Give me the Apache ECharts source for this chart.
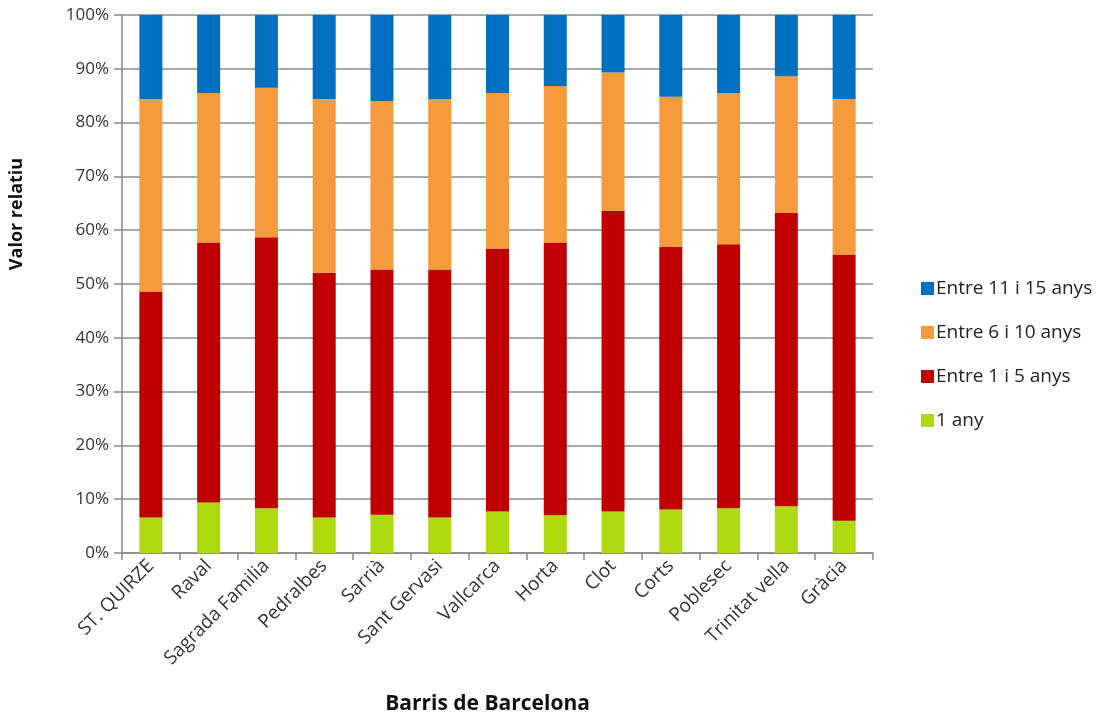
<!DOCTYPE html>
<html>
<head>
<meta charset="utf-8">
<script src="https://cdn.jsdelivr.net/npm/echarts@6/dist/echarts.min.js"></script>
<style>
  html, body { margin: 0; padding: 0; background: #fff; }
  #chart { width: 1116px; height: 720px; }
</style>
</head>
<body>
<div id="chart"></div>
<script>
// barris
const categories = ['ST. QUIRZE', 'Raval', 'Sagrada Familia', 'Pedralbes', 'Sarrià', 'Sant Gervasi',
  'Vallcarca', 'Horta', 'Clot', 'Corts', 'Poblesec', 'Trinitat vella', 'Gràcia']

// percentatges per franja (no acumulats)
const any1 = [6.6, 9.4, 8.3, 6.6, 7.1, 6.6, 7.7, 7.0, 7.7, 8.1, 8.3, 8.7, 6.0]
const anys1a5 = [42.0, 48.3, 50.4, 45.5, 45.6, 46.1, 48.9, 50.7, 55.9, 48.8, 49.1, 54.5, 49.5]
const anys6a10 = [35.8, 27.8, 27.8, 32.3, 31.3, 31.7, 28.9, 29.1, 25.7, 27.9, 28.1, 25.4, 28.9]
const anys11a15 = [15.6, 14.5, 13.5, 15.6, 16.0, 15.6, 14.5, 13.2, 10.7, 15.2, 14.5, 11.4, 15.6]

const font = '"Open Sans", Lato, sans-serif'

const makeBar = (name, data, color) => ({
  name: name,
  type: 'bar',
  stack: 'total',
  barWidth: 23,
  data: data,
  itemStyle: { color: color }
})

let chart = echarts.init(document.getElementById('chart'))
chart.setOption({
  animation: false,
  textStyle: { fontFamily: font },
  grid: { left: 120, right: 243, top: 15, bottom: 164 },
  legend: {
    orient: 'vertical',
    left: 916,
    top: 274,
    itemWidth: 13,
    itemHeight: 13,
    itemGap: 25,
    icon: 'rect',
    textStyle: { fontSize: 19, color: '#222', fontFamily: font, padding: [0, 0, 0, -3] },
    data: ['Entre 11 i 15 anys', 'Entre 6 i 10 anys', 'Entre 1 i 5 anys', '1 any']
  },
  xAxis: {
    type: 'category',
    data: categories,
    name: 'Barris de Barcelona',
    nameLocation: 'middle',
    nameGap: 141,
    nameTextStyle: { fontSize: 21, fontWeight: 'bold', color: '#111', fontFamily: font, padding: [0, 20, 0, 0] },
    axisLine: { lineStyle: { color: '#888', width: 1.5 } },
    axisTick: { show: true, length: 7, lineStyle: { color: '#888', width: 1.5 } },
    axisLabel: { rotate: 45, fontSize: 19, color: '#333', margin: 10, interval: 0 }
  },
  yAxis: {
    type: 'value',
    min: 0,
    max: 100,
    interval: 10,
    name: 'Valor relatiu',
    nameLocation: 'middle',
    nameGap: 96,
    nameTextStyle: { fontSize: 18, fontWeight: 'bold', color: '#111', fontFamily: font, padding: [0, 0, 0, 140] },
    axisLine: { show: true, lineStyle: { color: '#888', width: 1.5 } },
    axisTick: { show: true, length: 8, lineStyle: { color: '#888', width: 1.5 } },
    axisLabel: { formatter: '{value}%', fontSize: 17, color: '#333', margin: 13 },
    splitLine: { lineStyle: { color: '#8c8c8c', width: 1.5 } }
  },
  series: [
    makeBar('1 any', any1, '#B0DA10'),
    makeBar('Entre 1 i 5 anys', anys1a5, '#C00000'),
    makeBar('Entre 6 i 10 anys', anys6a10, '#F59B3B'),
    makeBar('Entre 11 i 15 anys', anys11a15, '#0070C0')
  ]
})
</script>
</body>
</html>
